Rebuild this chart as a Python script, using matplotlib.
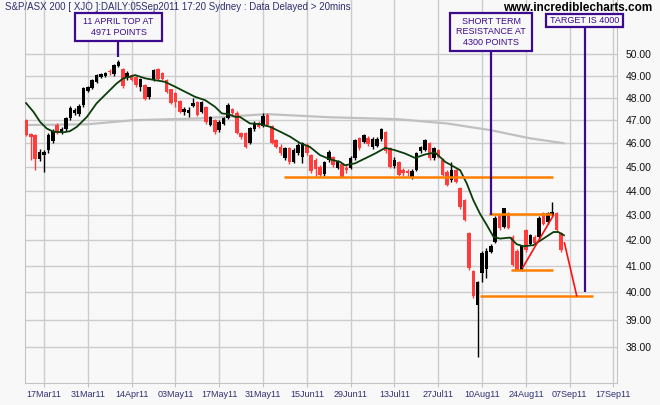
import numpy as np
import matplotlib.pyplot as plt
from matplotlib.patches import Rectangle
from matplotlib.ticker import NullLocator, FixedLocator, FixedFormatter

plt.rcParams['font.family'] = ['Liberation Sans', 'DejaVu Sans']

# trading day index, 0 = 17 Mar 2011, last bar = 05 Sep 2011
days = np.arange(-4, 119)

opens = np.array([
    46.99, 46.39, 46.35, 45.32, 45.49, 45.70, 46.09, 46.79, 46.44, 46.61,
    47.09, 47.32, 47.27, 47.67, 48.30, 48.44, 48.71, 48.94, 48.98, 49.20,
    49.07, 49.45, 49.30, 48.89, 49.03, 48.94, 48.48, 48.57, 48.03, 48.80,
    49.30, 49.12, 48.80, 48.39, 48.21, 47.85, 47.36, 47.30, 47.62, 47.80,
    47.36, 47.58, 46.79, 47.00, 46.57, 46.83, 47.09, 47.49, 47.32, 46.44,
    46.44, 46.00, 46.61, 46.87, 46.74, 47.23, 46.74, 46.13, 45.83, 45.36,
    45.79, 45.19, 45.57, 45.40, 45.92, 45.49, 45.28, 44.98, 44.69, 45.28,
    45.40, 44.94, 45.10, 44.95, 44.94, 45.36, 46.22, 46.04, 46.22, 45.83,
    45.90, 46.17, 46.48, 45.79, 45.02, 45.19, 44.85, 44.80, 44.56, 44.85,
    45.66, 45.70, 46.00, 45.36, 45.70, 45.28, 44.77, 44.43, 44.85, 44.10,
    43.60, 42.29, 40.81, 39.53, 40.72, 40.90, 41.54, 41.93, 43.00, 42.52,
    43.09, 42.12, 41.60, 40.85, 42.41, 41.85, 42.12, 42.12, 43.08, 42.72,
    43.00, 43.08, 42.29])
highs = np.array([
    47.05, 46.42, 46.40, 45.75, 45.70, 46.45, 46.60, 46.90, 46.70, 47.15,
    47.65, 47.55, 47.70, 48.50, 48.55, 48.85, 49.10, 49.12, 49.15, 49.30,
    49.55, 49.71, 49.35, 49.20, 49.10, 49.00, 48.90, 48.60, 48.50, 49.30,
    49.35, 49.15, 48.85, 48.40, 48.25, 47.90, 47.58, 47.58, 47.98, 47.85,
    47.85, 47.65, 47.20, 47.05, 47.00, 47.15, 47.75, 47.55, 47.40, 46.50,
    46.50, 46.70, 46.95, 46.95, 47.30, 47.30, 46.80, 46.20, 45.95, 45.85,
    45.85, 45.80, 46.00, 46.05, 46.00, 45.55, 45.35, 45.05, 45.25, 45.70,
    45.45, 45.30, 45.15, 45.06, 45.45, 46.20, 46.25, 46.40, 46.30, 46.25,
    46.25, 46.65, 46.55, 45.85, 45.40, 45.25, 44.95, 44.90, 44.90, 45.62,
    45.90, 46.20, 46.05, 45.85, 45.75, 45.35, 44.85, 45.20, 44.90, 44.15,
    43.65, 42.35, 40.85, 40.45, 41.60, 41.70, 41.85, 42.95, 43.05, 43.28,
    43.12, 42.20, 41.65, 41.80, 42.45, 42.25, 42.20, 42.95, 43.12, 43.12,
    43.53, 43.12, 42.35])
lows = np.array([
    46.30, 45.28, 44.85, 45.25, 44.77, 45.60, 46.00, 46.40, 46.40, 46.55,
    47.00, 47.25, 47.20, 47.60, 48.25, 48.40, 48.65, 48.90, 48.95, 49.05,
    49.00, 49.40, 48.45, 48.80, 48.75, 48.50, 48.30, 47.90, 47.95, 48.75,
    48.80, 48.80, 48.20, 47.70, 47.60, 47.30, 47.23, 47.14, 47.58, 47.20,
    47.30, 46.85, 46.75, 46.40, 46.50, 46.80, 47.05, 47.25, 46.40, 46.20,
    45.80, 45.95, 46.55, 46.65, 46.70, 46.75, 45.95, 45.80, 45.50, 45.30,
    45.10, 45.15, 45.50, 45.15, 45.50, 44.75, 44.57, 44.57, 44.60, 45.20,
    45.00, 44.90, 44.55, 44.73, 44.90, 45.30, 45.70, 46.00, 45.90, 45.75,
    45.85, 46.10, 45.60, 44.95, 44.95, 44.60, 44.60, 44.62, 44.50, 44.80,
    45.60, 45.65, 45.30, 45.30, 45.35, 44.60, 44.20, 44.35, 44.30, 43.25,
    42.75, 40.85, 39.80, 37.66, 40.38, 40.55, 41.50, 41.90, 42.40, 42.50,
    42.45, 41.00, 40.80, 40.82, 41.55, 41.80, 41.80, 42.05, 42.60, 42.65,
    42.95, 42.35, 41.55])
closes = np.array([
    46.35, 46.26, 45.32, 45.62, 45.62, 46.35, 46.52, 46.44, 46.61, 47.09,
    47.54, 47.45, 47.63, 48.44, 48.48, 48.80, 49.03, 49.07, 49.12, 49.15,
    49.49, 49.65, 48.53, 49.12, 48.80, 48.57, 48.85, 47.94, 48.48, 49.26,
    48.85, 48.85, 48.25, 47.76, 47.80, 47.36, 47.49, 47.45, 47.76, 47.23,
    47.80, 46.92, 47.14, 46.48, 46.92, 47.09, 47.67, 47.32, 46.44, 46.26,
    45.83, 46.66, 46.87, 46.70, 47.18, 46.79, 46.00, 45.83, 45.57, 45.79,
    45.19, 45.70, 45.92, 46.00, 45.57, 44.81, 44.90, 44.64, 45.19, 45.62,
    45.06, 45.19, 44.56, 44.85, 45.36, 46.13, 45.79, 46.35, 45.96, 46.17,
    46.17, 46.61, 45.66, 45.00, 45.28, 44.64, 44.75, 44.72, 44.81, 45.57,
    45.83, 46.13, 45.36, 45.79, 45.40, 44.64, 44.23, 44.85, 44.35, 43.33,
    42.80, 40.92, 39.87, 40.38, 41.50, 41.60, 41.77, 42.88, 42.48, 43.28,
    42.48, 41.03, 40.85, 41.77, 41.62, 42.21, 41.89, 42.88, 42.64, 43.08,
    43.12, 42.40, 41.62])

# short moving average (green)
ma_x = [-4.1, -2.4, -0.9, 0.6, 2.1, 4.4, 5.9, 7.5, 9.8, 12.0, 14.3, 16.6, 18.1,
        19.6, 20.8, 23.1, 25.3, 27.6, 29.9, 32.2, 34.5, 36.8, 39.0, 40.6, 42.1,
        43.6, 44.7, 47.0, 49.3, 51.6, 53.9, 56.2, 58.4, 60.7, 63.0, 65.3, 67.6,
        68.7, 71.0, 73.3, 75.6, 77.9, 80.1, 82.4, 84.7, 87.0, 89.3, 91.6, 92.7,
        95.0, 96.5, 98.0, 99.5, 101.1, 102.6, 104.1, 106.4, 107.9, 109.4, 111.7,
        114.0, 116.3, 117.4, 118.7]
ma_y = [47.76, 47.37, 46.93, 46.64, 46.50, 46.47, 46.52, 46.71, 47.15, 47.75,
        48.20, 48.65, 48.88, 48.95, 49.03, 48.88, 48.80, 48.72, 48.50, 48.27,
        48.04, 47.89, 47.60, 47.30, 47.27, 47.15, 47.15, 46.86, 46.83, 46.71,
        46.50, 46.28, 46.01, 45.84, 45.49, 45.31, 45.20, 45.06, 45.14, 45.35,
        45.56, 45.80, 45.70, 45.56, 45.37, 45.52, 45.60, 45.20, 45.09, 44.85,
        44.30, 43.61, 43.07, 42.60, 42.14, 42.07, 42.11, 41.85, 41.77, 41.81,
        42.07, 42.33, 42.33, 42.20]

# long moving average (grey)
lma_x = [-4.3, 9.8, 20.3, 35.6, 50.9, 65.3, 80.5, 91.9, 101.8, 111.0, 118.6]
lma_y = [46.79, 46.82, 47.00, 47.08, 47.27, 47.13, 47.05, 46.86, 46.57, 46.21, 46.00]

tick_pos = list(range(0, 140, 10))
tick_labels = ['17Mar11', '31Mar11', '14Apr11', '03May11', '17May11', '31May11',
               '15Jun11', '29Jun11', '13Jul11', '27Jul11', '10Aug11', '24Aug11',
               '07Sep11', '17Sep11']
price_ticks = [38, 39, 40, 41, 42, 43, 44, 45, 46, 47, 48, 49, 50]

# support / resistance lines: level, from, to
sr_level = [44.58, 43.05, 40.85, 39.87]
sr_start = [54.8, 101.6, 106.6, 99.5]
sr_end = [116.2, 116.0, 116.2, 125.3]

# red trend lines
up_x, up_y = [109.3, 116.3], [40.95, 43.0]
down_x, down_y = [118.8, 121.6], [41.9, 39.88]

# annotation pointers: x, bottom, top
note_x = [17, 102, 123.5]
note_lo = [49.85, 43.0, 40.0]
note_hi = [50.61, 50.14, 51.28]

bg = '#f8f8f8'
purple = '#3c0a8e'
W, H = 660, 405

fig = plt.figure(figsize=(6.6, 4.05), dpi=100, facecolor=bg)
ax = fig.add_axes([25 / W, 22 / H, 592 / W, 383 / H])
ax.set_facecolor(bg)
ax.set_yscale('log')
ax.set_ylim(36.75, 52.6)
ax.set_xlim(-4.34, 130.8)

ax.yaxis.tick_right()
ax.yaxis.set_major_locator(FixedLocator(price_ticks))
ax.yaxis.set_major_formatter(FixedFormatter(['%.2f' % p for p in price_ticks]))
ax.yaxis.set_minor_locator(NullLocator())
ax.set_xticks(tick_pos)
ax.set_xticklabels(tick_labels)
ax.grid(color='#cccccc', lw=1)
ax.set_axisbelow(True)
for s in ['left', 'right', 'bottom']:
    ax.spines[s].set_color('#c4c4c4')
ax.spines['top'].set_visible(False)
ax.tick_params(axis='y', length=0, pad=6, labelsize=7.5, labelcolor='#111111')
ax.tick_params(axis='x', length=3, color='#c4c4c4', pad=2, labelsize=6.5,
               labelcolor='#2f3070')

ax.plot(lma_x, lma_y, color='#c0c0c0', lw=1.6, zorder=2)

colors = np.where(closes >= opens, 'black', '#ff3b3b')
ax.vlines(days, lows, highs, colors=colors, lw=1, zorder=3)
ax.bar(days, np.abs(closes - opens), bottom=np.minimum(opens, closes),
       width=0.8, color=colors, lw=0, zorder=3)

ax.plot(ma_x, ma_y, color='#0b3d0b', lw=1.3, zorder=4)
ax.hlines(sr_level, sr_start, sr_end, color='#ff8000', lw=1.8, zorder=5)
ax.plot(up_x, up_y, color='#ff1010', lw=1.2, zorder=5)
ax.plot(down_x, down_y, color='#ff1010', lw=1.2, zorder=5)
ax.vlines(note_x, note_lo, note_hi, color=purple, lw=1.6, zorder=6)

# annotation boxes (pixel layout)
boxes = [(75, 13, 162, 41, '11 APRIL TOP AT\n4971 POINTS'),
         (450, 13, 532, 51, 'SHORT TERM\nRESISTANCE AT\n4300 POINTS'),
         (546, 14, 623, 27, 'TARGET IS 4000')]
for x0, y0, x1, y1, txt in boxes:
    fig.patches.append(Rectangle((x0 / W, 1 - y1 / H), (x1 - x0) / W, (y1 - y0) / H,
                                 transform=fig.transFigure, fill=True, fc=bg,
                                 ec=purple, lw=1.6, zorder=10))
    fig.text((x0 + x1) / 2 / W, 1 - (y0 + y1) / 2 / H, txt, ha='center', va='center',
             fontsize=6.5, color=purple, linespacing=1.2, zorder=11)

fig.text(5 / W, 1 - 7 / H, 'S&P/ASX 200 [ XJO ]:DAILY:05Sep2011 17:20 Sydney : Data Delayed > 20mins',
         ha='left', va='center', fontsize=7, color='#2f3070')
fig.text(652 / W, 1 - 8 / H, 'www.incrediblecharts.com', ha='right', va='center',
         fontsize=8.5, fontweight='bold', color='black')

fig.savefig('out.png', dpi=100, facecolor=bg)
